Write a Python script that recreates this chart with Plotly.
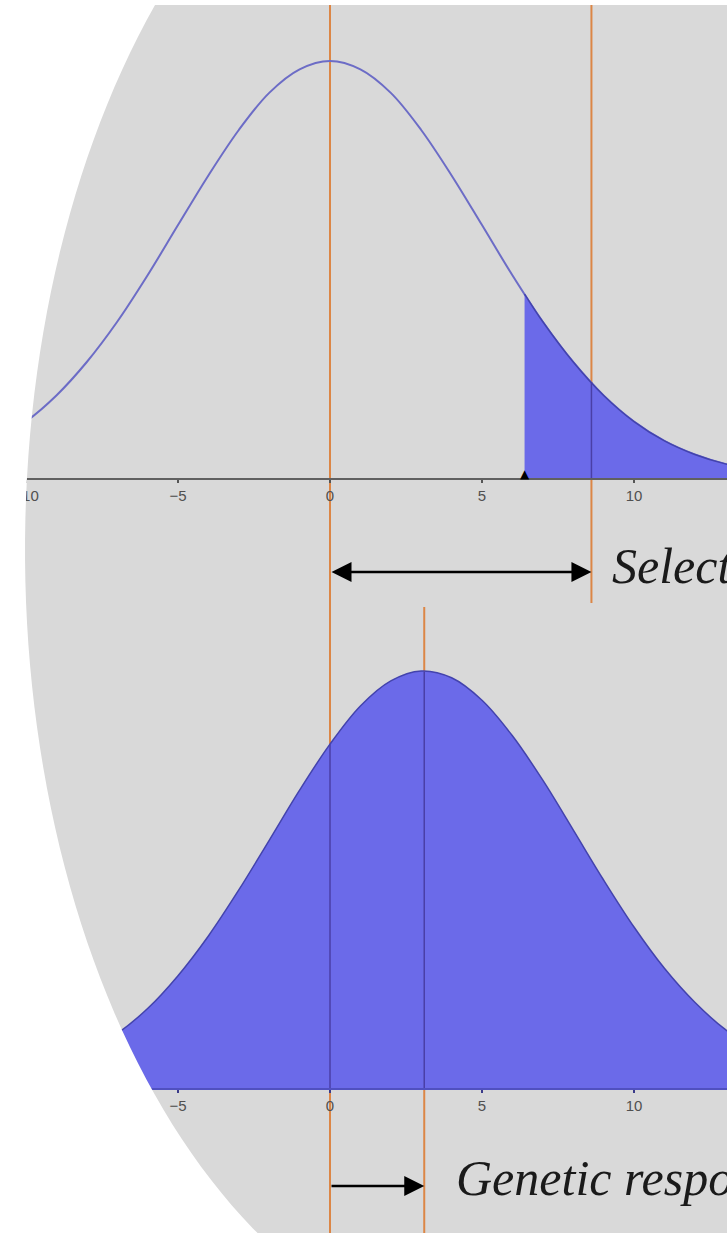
import numpy as np
import plotly.graph_objects as go

# trait value vs. density
x_before = [-11, -10, -9, -8, -7, -6, -5, -4, -3, -2, -1, 0, 1, 2, 3, 4, 5, 6, 7, 8, 9, 10, 11, 12, 13, 14]
dens_before = [0.0071, 0.0108, 0.0158, 0.0222, 0.0299, 0.0388, 0.0484, 0.0579, 0.0666, 0.0737, 0.0782, 0.0798,
               0.0782, 0.0737, 0.0666, 0.0579, 0.0484, 0.0388, 0.0299, 0.0222, 0.0158, 0.0108, 0.0071, 0.0045,
               0.0027, 0.0016]

# selected tail (above the truncation point)
x_tail = [6.4, 7, 8, 9, 10, 11, 12, 13, 14]
dens_tail = [0.0352, 0.0299, 0.0222, 0.0158, 0.0108, 0.0071, 0.0045, 0.0027, 0.0016]
threshold = 6.4

# offspring distribution
x_after = [-8, -7, -6, -5, -4, -3, -2, -1, 0, 1, 2, 3, 4, 5, 6, 7, 8, 9, 10, 11, 12, 13, 14, 15]
dens_after = [0.0068, 0.0104, 0.0152, 0.0215, 0.0291, 0.0379, 0.0474, 0.0570, 0.0658, 0.0731, 0.0779, 0.0798,
              0.0785, 0.0742, 0.0674, 0.0589, 0.0494, 0.0398, 0.0308, 0.0229, 0.0164, 0.0112, 0.0074, 0.0046]

mean_before = 0.0
mean_selected = 8.6
mean_after = 3.1

tick_vals = [-10, -5, 0, 5, 10, 15]
label_sel = "Selection differential"
label_resp = "Genetic response"

W, H = 727, 1233


def py(p):
    return 1 - p / H


# pixel layout of the slide
x0_px, px_per_unit = 330, 30.4
y_scale = 417 / 0.0798
x_range = [-x0_px / px_per_unit, (W - x0_px) / px_per_unit]

BG = "#d9d9d9"
FILL = "#6b6ae9"
EDGE = "#4343ad"
ORANGE = "#dc8646"
TICKFONT = dict(family="Liberation Sans", size=15, color="#505050")

fig = go.Figure()
fig.add_trace(go.Scatter(x=x_before, y=dens_before, mode="lines", line=dict(color="#6c6cc6", width=2, shape="spline"),
                         xaxis="x", yaxis="y", hoverinfo="skip"))
fig.add_trace(go.Scatter(x=x_tail, y=dens_tail, mode="lines", fill="tozeroy", fillcolor=FILL,
                         line=dict(color=EDGE, width=1.5, shape="spline"), xaxis="x", yaxis="y", hoverinfo="skip"))
fig.add_trace(go.Scatter(x=x_after, y=dens_after, mode="lines", fill="tozeroy", fillcolor=FILL,
                         line=dict(color=EDGE, width=1.5, shape="spline"), xaxis="x2", yaxis="y2", hoverinfo="skip"))

axis_common = dict(range=x_range, domain=[0, 1], tickvals=tick_vals, ticks="outside", ticklen=3, tickwidth=2,
                   showgrid=False, zeroline=False, tickfont=TICKFONT, layer="below traces", fixedrange=True)
fig.update_layout(
    width=W, height=H, margin=dict(l=0, r=0, t=0, b=0),
    paper_bgcolor=BG, plot_bgcolor="rgba(0,0,0,0)", showlegend=False,
    xaxis=dict(anchor="y", showline=True, linecolor="#606060", linewidth=2, tickcolor="#555555", **axis_common),
    yaxis=dict(domain=[py(478), py(0)], range=[0, 478 / y_scale], visible=False, fixedrange=True),
    xaxis2=dict(anchor="y2", showline=True, linecolor="#5050c0", linewidth=2, tickcolor="#3a3a8a", **axis_common),
    yaxis2=dict(domain=[py(1088), py(600)], range=[0, 488 / y_scale], visible=False, fixedrange=True),
)

# orange reference lines
shapes = [
    dict(type="line", xref="x", yref="paper", x0=mean_before, x1=mean_before, y0=py(H), y1=py(0),
         line=dict(color=ORANGE, width=2), layer="below"),
    dict(type="line", xref="x", yref="paper", x0=mean_selected, x1=mean_selected, y0=py(603), y1=py(0),
         line=dict(color=ORANGE, width=2), layer="below"),
    dict(type="line", xref="x2", yref="paper", x0=mean_after, x1=mean_after, y0=py(H), y1=py(607),
         line=dict(color=ORANGE, width=2), layer="below"),
]
# the lines show through the blue fill as dark strokes
for xv, xs, ys, xr, yr in [(mean_selected, x_tail, dens_tail, "x", "y"),
                           (mean_before, x_after, dens_after, "x2", "y2"),
                           (mean_after, x_after, dens_after, "x2", "y2")]:
    shapes.append(dict(type="line", xref=xr, yref=yr, x0=xv, x1=xv, y0=0, y1=float(np.interp(xv, xs, ys)),
                       line=dict(color="#4a3fa6", width=1.5), layer="above"))

# white page outside the oval slide picture
cx, cy, a, b = 510, 550, 485, 800
t = np.linspace(0, 2 * np.pi, 240)
ex = (cx + a * np.cos(t)) / W
ey = py(cy + b * np.sin(t))
oval = "M" + " L".join(f"{u:.5f},{v:.5f}" for u, v in zip(ex, ey)) + " Z"
mask = "M-0.5,-0.5 L1.5,-0.5 L1.5,1.5 L-0.5,1.5 Z " + oval
shapes.append(dict(type="path", xref="paper", yref="paper", path=mask, fillcolor="white", fillrule="evenodd",
                   line=dict(width=0), layer="above"))
shapes.append(dict(type="rect", xref="paper", yref="paper", x0=-0.1, x1=1.1, y0=py(5), y1=1.1,
                   fillcolor="white", line=dict(width=0), layer="above"))
fig.update_layout(shapes=shapes)

TXT = dict(family="Liberation Serif", size=50, color="#1a1a1a", style="italic")
fig.add_annotation(x=threshold, y=0, xref="x", yref="y", text="▲", showarrow=False, yanchor="bottom", yshift=-5,
                   font=dict(family="DejaVu Sans", size=12, color="black"))
fig.add_annotation(x=mean_selected, y=py(572), xref="x", yref="paper", ax=mean_before, ay=0, axref="x", ayref="pixel",
                   text="", showarrow=True, arrowside="end+start", arrowhead=2, arrowsize=1.6, arrowwidth=2.5,
                   arrowcolor="black", standoff=0, startstandoff=0)
fig.add_annotation(x=mean_after, y=py(1186), xref="x2", yref="paper", ax=mean_before, ay=0, axref="x2", ayref="pixel",
                   text="", showarrow=True, arrowhead=2, arrowsize=1.6, arrowwidth=2.5, arrowcolor="black", standoff=0)
fig.add_annotation(x=mean_selected, y=py(596), xref="x", yref="paper", text=label_sel, showarrow=False,
                   xanchor="left", yanchor="bottom", xshift=19, font=TXT)
fig.add_annotation(x=mean_after, y=py(1208), xref="x2", yref="paper", text=label_resp, showarrow=False,
                   xanchor="left", yanchor="bottom", xshift=30, font=TXT)

# no page margin, so the figure fills the window exactly
fig.write_html("out.html", config={"displayModeBar": False},
               post_script="document.body.style.margin='0';document.body.style.overflow='hidden';")
